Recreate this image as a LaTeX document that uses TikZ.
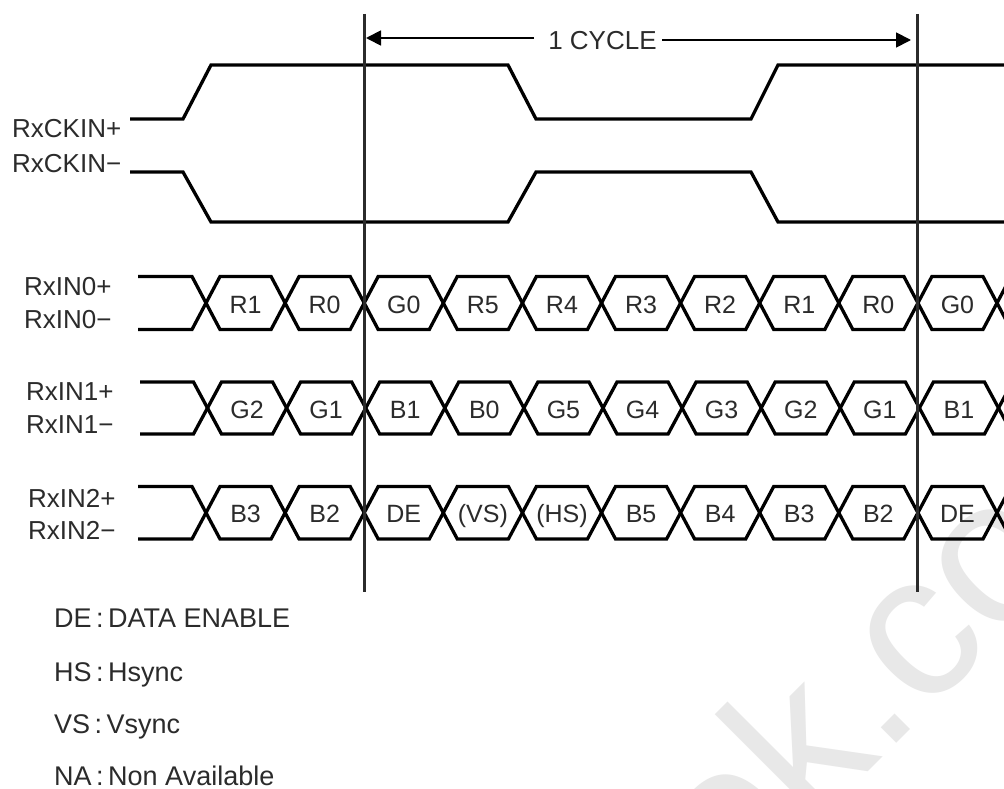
\documentclass[tikz,border=0pt]{standalone}
\usepackage{fontspec}
\setmainfont{Liberation Sans}
\usetikzlibrary{arrows.meta}
\definecolor{ink}{HTML}{2B2B2B}
\definecolor{mark}{HTML}{E8E8E8}
\tikzset{
  wave/.style={line width=3.3pt,black,line join=miter,line cap=butt},
  guide/.style={line width=3pt,ink},
  dim/.style={line width=1.8pt,black,-{Triangle[length=15pt,width=15pt]}},
  lab/.style={anchor=base west,inner sep=0pt,text=ink,font=\fontsize{26}{26}\selectfont},
  cell/.style={anchor=base,inner sep=0pt,text=ink,font=\fontsize{25}{25}\selectfont},
  legend/.style={anchor=base west,inner sep=0pt,text=ink,font=\fontsize{27}{27}\selectfont},
}
% #1 start x, #2 first crossing x, #3 top y, #4 bottom y
\newcommand{\buswave}[4]{%
  \draw[wave] (#1,#3) foreach \k in {0,...,11} {
    -- ({#2+\k*79.1-14},{mod(\k,2)==0?#3:#4}) -- ({#2+\k*79.1+14},{mod(\k,2)==0?#4:#3}) };
  \draw[wave] (#1,#4) foreach \k in {0,...,11} {
    -- ({#2+\k*79.1-14},{mod(\k,2)==0?#4:#3}) -- ({#2+\k*79.1+14},{mod(\k,2)==0?#3:#4}) };
}
% #1 row name, #2 first crossing x, #3 baseline, #4 labels
\newcommand{\buscells}[4]{%
  \foreach \t [count=\n from 0] in {#4}
    \node[cell] (#1c\n) at ({#2+(\n+0.5)*79.1},#3) {\t};
}
\begin{document}
\begin{tikzpicture}[x=1pt,y=-1pt]
\useasboundingbox (0,0) rectangle (1004,789);
\clip (0,0) rectangle (1004,789);
\fill[white] (0,0) rectangle (1004,789);
% watermark
\node[rotate=45,anchor=base west,inner sep=0pt,text=mark,font=\fontsize{205}{205}\selectfont] (wm) at (730,910) {ok.co};
% clock
\draw[wave] (130,119) -- (183,119) -- (211,65) -- (508,65) -- (536,119) -- (751,119) -- (778,65) -- (1006,65);
\draw[wave] (130,172) -- (183,172) -- (211,222) -- (508,222) -- (536,172) -- (751,172) -- (778,222) -- (1006,222);
% buses
\buswave{138}{206}{276.5}{329.5}
\buswave{140}{207.5}{382}{434}
\buswave{138}{206}{486.5}{539}
\buscells{a}{206}{313}{R1,R0,G0,R5,R4,R3,R2,R1,R0,G0}
\buscells{b}{207.5}{418}{G2,G1,B1,B0,G5,G4,G3,G2,G1,B1}
\buscells{c}{206}{522}{B3,B2,DE,(VS),(HS),B5,B4,B3,B2,DE}
% guides
\coordinate (gat) at (364.5,14);
\coordinate (gab) at (364.5,592);
\coordinate (gbt) at (917,14);
\coordinate (gbb) at (917,592);
\draw[guide] (gat) -- (gab);
\draw[guide] (gbt) -- (gbb);
% dimension
\node[cell,font=\fontsize{26}{26}\selectfont] (cyc) at (602.5,50) {1 CYCLE};
\coordinate (dl) at (534,38);
\coordinate (dlt) at (366,38);
\coordinate (dr) at (662,40);
\coordinate (drt) at (911,40);
\draw[dim] (dl) -- (dlt);
\draw[dim] (dr) -- (drt);
% labels
\node[lab] (l1) at (12,138) {RxCKIN+};
\node[lab] (l2) at (12,172) {RxCKIN−};
\node[lab] (l3) at (24,295) {RxIN0+};
\node[lab] (l4) at (24,328) {RxIN0−};
\node[lab] (l5) at (26,400) {RxIN1+};
\node[lab] (l6) at (26,433) {RxIN1−};
\node[lab] (l7) at (28,507) {RxIN2+};
\node[lab] (l8) at (28,539) {RxIN2−};
% legend
\node[legend] (k1) at (54,627) {DE\,:\,DATA ENABLE};
\node[legend] (k2) at (54,681) {HS\,:\,Hsync};
\node[legend] (k3) at (54,733) {VS\,:\,Vsync};
\node[legend] (k4) at (54,785) {NA\,:\,Non Available};
\end{tikzpicture}
\end{document}
